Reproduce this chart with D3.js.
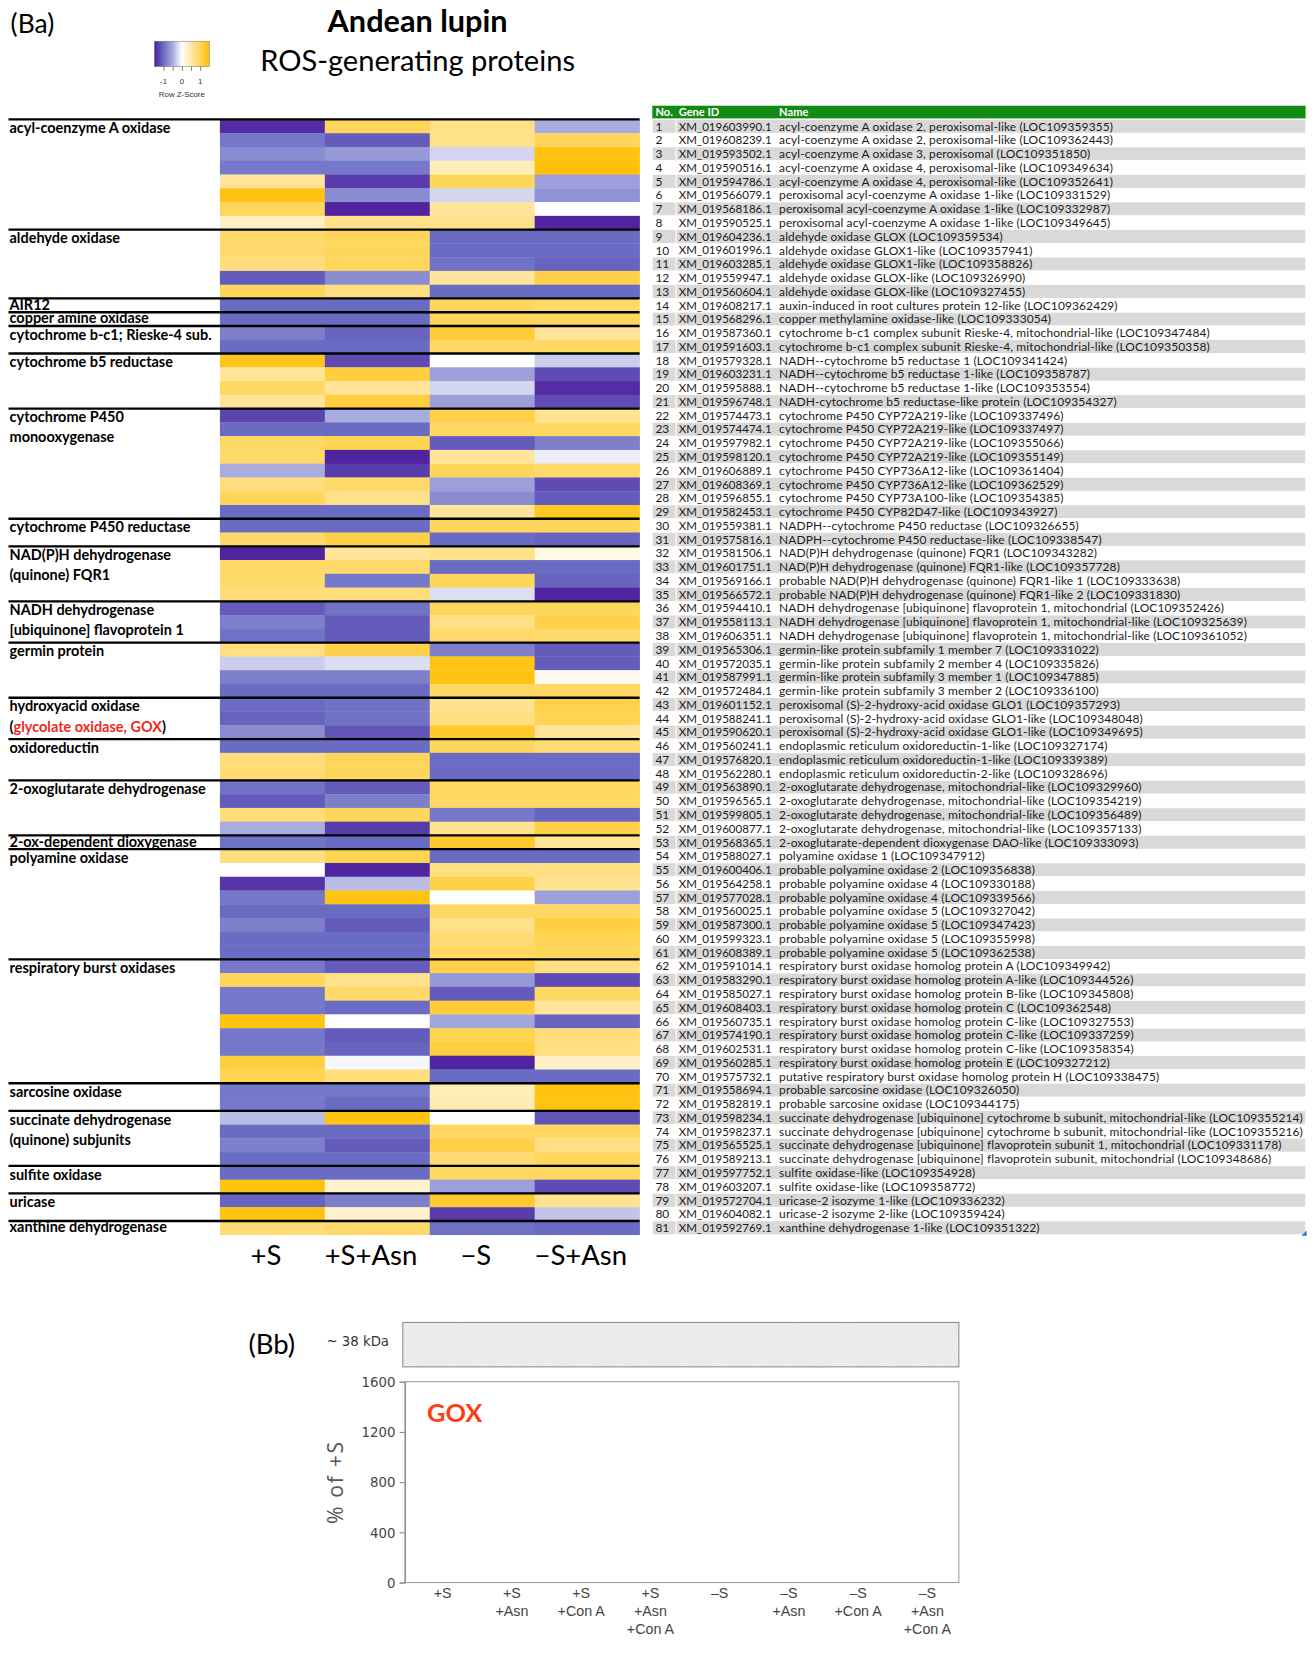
<!DOCTYPE html>
<html lang="en">
<head>
<meta charset="utf-8">
<title>Andean lupin - ROS-generating proteins</title>
<script src="https://cdn.jsdelivr.net/npm/d3@7/dist/d3.min.js"></script>
<style>
  body { margin: 0; background: #fff; }
  svg { display: block; }
</style>
</head>
<body>
<div id="chart"></div>
<script>
// ---- data ----
const conditions = ['+S', '+S+Asn', '\u2212S', '\u2212S+Asn'];

// row z-scores, one array per condition (81 genes)
const zPlusS = [-1.4,-0.9,-0.75,-0.9,0.6,1.4,1.0,0.35, 0.9,0.9,0.8,-1.1,1.0, -1.0, -1.0, -0.85,-1.0,
  1.35,0.6,0.95,0.6, -1.25,-1.0,0.95,0.9,-0.5,0.8,1.0,-1.0, -1.0,0.9, -1.45,0.9,0.9,0.8, -1.1,-0.85,-0.95,
  0.75,-0.3,-0.85,-1.0, -1.0,-1.05,-0.75, -1.0,0.8,0.85, -0.95,-1.1,0.8,-0.5, -0.95,
  0.75,0.0,-1.35,-0.9,-1.0,-0.85,-1.0,-1.0, -0.9,1.0,-0.9,-0.9,1.4,-0.9,-0.9,1.15,1.05,
  -0.9,-0.9, -0.4,-1.0,-0.85,-1.0, -1.0,1.4, -1.05,1.4, 0.85];
const zPlusSAsn = [1.0,-1.1,-0.65,-0.9,-1.3,-0.75,-1.45,0.7, 1.0,1.0,1.0,-0.75,0.75, -1.0, -1.0, -1.05,-1.0,
  -1.2,1.15,0.6,1.15, -0.5,-1.0,1.05,-1.45,-1.3,0.9,0.7,-1.0, -1.0,1.1, 0.6,0.9,-0.9,0.8, -0.95,-1.1,-1.1,
  1.1,-0.2,-0.85,-1.0, -0.95,-0.95,-1.15, -1.0,1.0,1.0, -1.1,-0.85,1.0,-1.3, -1.0,
  1.05,-1.45,-0.4,1.4,-1.0,-1.1,-1.0,-1.0, -1.1,0.7,0.9,-1.0,0.0,-1.1,-1.05,-0.05,0.8,
  -0.9,-1.0, 1.4,-1.0,-1.1,-1.0, -1.0,0.3, -0.85,0.3, 0.9];
const zMinusS = [0.7,0.7,-0.25,0.4,1.0,-0.25,0.6,0.7, -1.0,-1.0,-0.95,0.6,-1.0, 1.0, 1.0, 1.2,0.95,
  0.0,-0.6,-0.25,-0.6, 1.1,0.95,-1.1,0.6,1.0,-0.6,-0.75,0.6, 1.0,-1.0, 0.7,-1.0,1.0,-0.2, 1.0,0.75,0.9,
  -0.85,1.4,1.4,0.95, 0.65,0.75,1.25, 1.0,-1.0,-1.0, 0.95,0.95,-0.9,0.65, 1.25,
  -1.0,0.75,1.1,0.0,0.95,0.7,0.85,0.95, 1.1,-0.65,-1.1,1.2,-0.55,1.05,1.15,-1.45,-1.0,
  0.4,0.45, 0.0,0.95,1.1,0.85, 0.95,-0.6, 1.25,-1.3, -0.95];
const zMinusSAsn = [-0.5,1.0,1.4,1.45,-0.6,-0.7,0.0,-1.45, -1.0,-1.0,-1.05,1.1,-1.0, 0.9, 1.0, 0.6,0.95,
  -0.3,-1.2,-1.4,-1.2, 0.65,0.95,-0.85,-0.1,0.9,-1.2,-1.1,1.3, 1.0,-1.05, 0.15,-1.0,-1.05,-1.45, 1.0,1.1,0.9,
  -1.1,-1.1,0.1,0.95, 1.1,1.05,0.6, 0.85,-1.0,-1.0, 0.95,0.95,-1.05,1.1, 0.6,
  -1.0,0.75,0.65,-0.6,0.95,1.15,1.05,1.0, 0.75,-1.2,0.95,0.6,-1.05,0.8,0.75,0.35,-1.0,
  1.4,1.4, -1.15,0.95,0.75,1.0, 0.95,-1.2, 0.65,-0.35, -1.0];

// protein families on the left (| = line break) and how many genes each holds
const groupNames = ['acyl-coenzyme A oxidase', 'aldehyde oxidase', 'AIR12', 'copper amine oxidase',
  'cytochrome b-c1; Rieske-4 sub.', 'cytochrome b5 reductase', 'cytochrome P450|monooxygenase',
  'cytochrome P450 reductase', 'NAD(P)H dehydrogenase|(quinone) FQR1',
  'NADH dehydrogenase|[ubiquinone] flavoprotein 1', 'germin protein',
  'hydroxyacid oxidase|(glycolate oxidase, GOX)', 'oxidoreductin', '2-oxoglutarate dehydrogenase',
  '2-ox-dependent dioxygenase', 'polyamine oxidase', 'respiratory burst oxidases', 'sarcosine oxidase',
  'succinate dehydrogenase|(quinone) subjunits', 'sulfite oxidase', 'uricase', 'xanthine dehydrogenase'];
const groupSizes = [8,5,1,1,2,4,8,2,4,3,4,3,3,4,1,8,9,2,4,2,2,1];

const geneIds = ['XM_019603990.1','XM_019608239.1','XM_019593502.1','XM_019590516.1','XM_019594786.1',
  'XM_019566079.1','XM_019568186.1','XM_019590525.1','XM_019604236.1','XM_019601996.1','XM_019603285.1',
  'XM_019559947.1','XM_019560604.1','XM_019608217.1','XM_019568296.1','XM_019587360.1','XM_019591603.1',
  'XM_019579328.1','XM_019603231.1','XM_019595888.1','XM_019596748.1','XM_019574473.1','XM_019574474.1',
  'XM_019597982.1','XM_019598120.1','XM_019606889.1','XM_019608369.1','XM_019596855.1','XM_019582453.1',
  'XM_019559381.1','XM_019575816.1','XM_019581506.1','XM_019601751.1','XM_019569166.1','XM_019566572.1',
  'XM_019594410.1','XM_019558113.1','XM_019606351.1','XM_019565306.1','XM_019572035.1','XM_019587991.1',
  'XM_019572484.1','XM_019601152.1','XM_019588241.1','XM_019590620.1','XM_019560241.1','XM_019576820.1',
  'XM_019562280.1','XM_019563890.1','XM_019596565.1','XM_019599805.1','XM_019600877.1','XM_019568365.1',
  'XM_019588027.1','XM_019600406.1','XM_019564258.1','XM_019577028.1','XM_019560025.1','XM_019587300.1',
  'XM_019599323.1','XM_019608389.1','XM_019591014.1','XM_019583290.1','XM_019585027.1','XM_019608403.1',
  'XM_019560735.1','XM_019574190.1','XM_019602531.1','XM_019560285.1','XM_019575732.1','XM_019558694.1',
  'XM_019582819.1','XM_019598234.1','XM_019598237.1','XM_019565525.1','XM_019589213.1','XM_019597752.1',
  'XM_019603207.1','XM_019572704.1','XM_019604082.1','XM_019592769.1'];

const geneNames = [
  'acyl-coenzyme A oxidase 2, peroxisomal-like (LOC109359355)',
  'acyl-coenzyme A oxidase 2, peroxisomal-like (LOC109362443)',
  'acyl-coenzyme A oxidase 3, peroxisomal (LOC109351850)',
  'acyl-coenzyme A oxidase 4, peroxisomal-like (LOC109349634)',
  'acyl-coenzyme A oxidase 4, peroxisomal-like (LOC109352641)',
  'peroxisomal acyl-coenzyme A oxidase 1-like (LOC109331529)',
  'peroxisomal acyl-coenzyme A oxidase 1-like (LOC109332987)',
  'peroxisomal acyl-coenzyme A oxidase 1-like (LOC109349645)',
  'aldehyde oxidase GLOX (LOC109359534)',
  'aldehyde oxidase GLOX1-like (LOC109357941)',
  'aldehyde oxidase GLOX1-like (LOC109358826)',
  'aldehyde oxidase GLOX-like (LOC109326990)',
  'aldehyde oxidase GLOX-like (LOC109327455)',
  'auxin-induced in root cultures protein 12-like (LOC109362429)',
  'copper methylamine oxidase-like (LOC109333054)',
  'cytochrome b-c1 complex subunit Rieske-4, mitochondrial-like (LOC109347484)',
  'cytochrome b-c1 complex subunit Rieske-4, mitochondrial-like (LOC109350358)',
  'NADH--cytochrome b5 reductase 1 (LOC109341424)',
  'NADH--cytochrome b5 reductase 1-like (LOC109358787)',
  'NADH--cytochrome b5 reductase 1-like (LOC109353554)',
  'NADH-cytochrome b5 reductase-like protein (LOC109354327)',
  'cytochrome P450 CYP72A219-like (LOC109337496)',
  'cytochrome P450 CYP72A219-like (LOC109337497)',
  'cytochrome P450 CYP72A219-like (LOC109355066)',
  'cytochrome P450 CYP72A219-like (LOC109355149)',
  'cytochrome P450 CYP736A12-like (LOC109361404)',
  'cytochrome P450 CYP736A12-like (LOC109362529)',
  'cytochrome P450 CYP73A100-like (LOC109354385)',
  'cytochrome P450 CYP82D47-like (LOC109343927)',
  'NADPH--cytochrome P450 reductase (LOC109326655)',
  'NADPH--cytochrome P450 reductase-like (LOC109338547)',
  'NAD(P)H dehydrogenase (quinone) FQR1 (LOC109343282)',
  'NAD(P)H dehydrogenase (quinone) FQR1-like (LOC109357728)',
  'probable NAD(P)H dehydrogenase (quinone) FQR1-like 1 (LOC109333638)',
  'probable NAD(P)H dehydrogenase (quinone) FQR1-like 2 (LOC109331830)',
  'NADH dehydrogenase [ubiquinone] flavoprotein 1, mitochondrial (LOC109352426)',
  'NADH dehydrogenase [ubiquinone] flavoprotein 1, mitochondrial-like (LOC109325639)',
  'NADH dehydrogenase [ubiquinone] flavoprotein 1, mitochondrial-like (LOC109361052)',
  'germin-like protein subfamily 1 member 7 (LOC109331022)',
  'germin-like protein subfamily 2 member 4 (LOC109335826)',
  'germin-like protein subfamily 3 member 1 (LOC109347885)',
  'germin-like protein subfamily 3 member 2 (LOC109336100)',
  'peroxisomal (S)-2-hydroxy-acid oxidase GLO1 (LOC109357293)',
  'peroxisomal (S)-2-hydroxy-acid oxidase GLO1-like (LOC109348048)',
  'peroxisomal (S)-2-hydroxy-acid oxidase GLO1-like (LOC109349695)',
  'endoplasmic reticulum oxidoreductin-1-like (LOC109327174)',
  'endoplasmic reticulum oxidoreductin-1-like (LOC109339389)',
  'endoplasmic reticulum oxidoreductin-2-like (LOC109328696)',
  '2-oxoglutarate dehydrogenase, mitochondrial-like (LOC109329960)',
  '2-oxoglutarate dehydrogenase, mitochondrial-like (LOC109354219)',
  '2-oxoglutarate dehydrogenase, mitochondrial-like (LOC109356489)',
  '2-oxoglutarate dehydrogenase, mitochondrial-like (LOC109357133)',
  '2-oxoglutarate-dependent dioxygenase DAO-like (LOC109333093)',
  'polyamine oxidase 1 (LOC109347912)',
  'probable polyamine oxidase 2 (LOC109356838)',
  'probable polyamine oxidase 4 (LOC109330188)',
  'probable polyamine oxidase 4 (LOC109339566)',
  'probable polyamine oxidase 5 (LOC109327042)',
  'probable polyamine oxidase 5 (LOC109347423)',
  'probable polyamine oxidase 5 (LOC109355998)',
  'probable polyamine oxidase 5 (LOC109362538)',
  'respiratory burst oxidase homolog protein A (LOC109349942)',
  'respiratory burst oxidase homolog protein A-like (LOC109344526)',
  'respiratory burst oxidase homolog protein B-like (LOC109345808)',
  'respiratory burst oxidase homolog protein C (LOC109362548)',
  'respiratory burst oxidase homolog protein C-like (LOC109327553)',
  'respiratory burst oxidase homolog protein C-like (LOC109337259)',
  'respiratory burst oxidase homolog protein C-like (LOC109358354)',
  'respiratory burst oxidase homolog protein E (LOC109327212)',
  'putative respiratory burst oxidase homolog protein H (LOC109338475)',
  'probable sarcosine oxidase (LOC109326050)',
  'probable sarcosine oxidase (LOC109344175)',
  'succinate dehydrogenase [ubiquinone] cytochrome b subunit, mitochondrial-like (LOC109355214)',
  'succinate dehydrogenase [ubiquinone] cytochrome b subunit, mitochondrial-like (LOC109355216)',
  'succinate dehydrogenase [ubiquinone] flavoprotein subunit 1, mitochondrial (LOC109331178)',
  'succinate dehydrogenase [ubiquinone] flavoprotein subunit, mitochondrial (LOC109348686)',
  'sulfite oxidase-like (LOC109354928)',
  'sulfite oxidase-like (LOC109358772)',
  'uricase-2 isozyme 1-like (LOC109336232)',
  'uricase-2 isozyme 2-like (LOC109359424)',
  'xanthine dehydrogenase 1-like (LOC109351322)'];

// panel Bb: western blot quantification categories and y ticks
const goxCategories = [['+S'], ['+S','+Asn'], ['+S','+Con A'], ['+S','+Asn','+Con A'],
  ['\u2013S'], ['\u2013S','+Asn'], ['\u2013S','+Con A'], ['\u2013S','+Asn','+Con A']];
const goxTicks = [0, 400, 800, 1200, 1600];
const legendTicks = [-1, 0, 1];

// ---- drawing (coordinates in the 1242 wide frame, scaled up by the viewBox) ----
let svg = d3.select('#chart').append('svg')
  .attr('width', 1313)
  .attr('height', 1656)
  .attr('viewBox', '0 0 1242 1566.5')

let calibri = 'Lato, "Open Sans", sans-serif'

let color = d3.scaleLinear()
  .domain([-1.5, -1, -0.5, 0, 0.5, 1, 1.5])
  .range(['#4e1c9b', '#6a6bc3', '#a8acdf', '#ffffff', '#ffe8a8', '#ffd65c', '#ffbe00'])
  .clamp(true)

// titles
svg.append('text').attr('x', 10).attr('y', 31)
  .attr('font-family', calibri).attr('font-size', 25).text('(Ba)')
svg.append('text').attr('x', 395).attr('y', 30).attr('text-anchor', 'middle')
  .attr('font-family', calibri).attr('font-size', 29).attr('font-weight', 'bold').text('Andean lupin')
svg.append('text').attr('x', 395).attr('y', 67).attr('text-anchor', 'middle')
  .attr('font-family', calibri).attr('font-size', 27.5).text('ROS-generating proteins')

// colour key
let defs = svg.append('defs')
let grad = defs.append('linearGradient').attr('id', 'zgrad')
d3.range(0, 1.0001, 0.05).forEach(t => {
  grad.append('stop').attr('offset', t).attr('stop-color', color(-1.5 + 3 * t))
})
let key = d3.scaleLinear().domain([-1.5, 1.5]).range([146, 198])
svg.append('rect').attr('x', 146).attr('y', 39).attr('width', 52).attr('height', 24)
  .attr('fill', 'url(#zgrad)').attr('stroke', '#777').attr('stroke-width', 0.5)
svg.append('g')
  .attr('transform', 'translate(0,63)')
  .call(d3.axisBottom(key).tickValues([-1, -0.5, 0, 0.5, 1]).tickSize(4).tickFormat(''))
  .call(g => g.select('.domain').remove())
  .call(g => g.selectAll('line').attr('stroke', '#333').attr('stroke-width', 0.6))
svg.selectAll('.keylab').data(legendTicks).enter().append('text')
  .attr('x', d => key(d)).attr('y', 79).attr('text-anchor', 'middle')
  .attr('font-family', 'Liberation Sans, Arial, sans-serif').attr('font-size', 7.5).attr('fill', '#333')
  .text(d => d)
svg.append('text').attr('x', 172).attr('y', 92).attr('text-anchor', 'middle')
  .attr('font-family', 'Liberation Sans, Arial, sans-serif').attr('font-size', 7.5).attr('fill', '#333')
  .text('Row Z-Score')

// heatmap
let nGenes = geneIds.length
let xh = d3.scaleBand().domain(conditions).range([208, 605])
let yh = d3.scaleBand().domain(d3.range(nGenes)).range([113, 1168])
let zCols = [zPlusS, zPlusSAsn, zMinusS, zMinusSAsn]
let cells = []
zCols.forEach((col, c) => col.forEach((v, i) => cells.push({cond: conditions[c], row: i, z: v})))

svg.append('g').selectAll('rect').data(cells).enter().append('rect')
  .attr('x', d => xh(d.cond))
  .attr('y', d => yh(d.row))
  .attr('width', xh.bandwidth() + 0.3)
  .attr('height', yh.bandwidth() + 0.3)
  .attr('fill', d => color(d.z))

svg.selectAll('.condlab').data(conditions).enter().append('text')
  .attr('x', d => xh(d) + xh.bandwidth() / 2 - 6)
  .attr('y', 1197).attr('text-anchor', 'middle')
  .attr('font-family', calibri).attr('font-size', 26)
  .text(d => d)

// family labels and separators
let starts = []
groupSizes.reduce((acc, n) => { starts.push(acc); return acc + n }, 0)
let groups = groupNames.map((name, k) => ({name: name, start: starts[k], size: groupSizes[k]}))

let gl = svg.append('g')
gl.selectAll('line').data(groups).enter().append('line')
  .attr('x1', 8).attr('x2', 605)
  .attr('y1', d => yh(d.start)).attr('y2', d => yh(d.start))
  .attr('stroke', '#000').attr('stroke-width', 2.2)

groups.forEach(g => {
  let top = yh(g.start)
  let base = top + (g.size === 1 ? 10.5 : 13)
  g.name.split('|').forEach((line, li) => {
    let t = gl.append('text').attr('x', 9).attr('y', base + li * 19)
      .attr('font-family', calibri).attr('font-size', 13.7).attr('font-weight', 'bold')
    if (line.indexOf('GOX') >= 0) {
      t.append('tspan').text('(')
      t.append('tspan').attr('fill', '#ee2a1b').text(line.slice(1, -1))
      t.append('tspan').text(')')
    } else {
      t.text(line)
    }
  })
})

// gene table
let tb = svg.append('g')
tb.append('rect').attr('x', 617).attr('y', 100).attr('width', 618).attr('height', 12)
  .attr('fill', '#138a13')
;[['No.', 620], ['Gene ID', 642], ['Name', 737]].forEach(h => {
  tb.append('text').attr('x', h[1]).attr('y', 109.5)
    .attr('font-family', calibri).attr('font-size', 10.5).attr('font-weight', 'bold')
    .attr('fill', '#fff').text(h[0])
})
let rows = tb.selectAll('.row').data(geneIds).enter().append('g')
  .attr('transform', (d, i) => 'translate(0,' + yh(i) + ')')
rows.append('rect').attr('x', 617).attr('width', 618).attr('height', yh.bandwidth())
  .attr('fill', (d, i) => i % 2 === 0 ? '#d9d9d9' : '#ffffff')
  .attr('stroke', '#fff').attr('stroke-width', 0.6)
rows.append('line').attr('x1', 639.5).attr('x2', 639.5).attr('y1', 0).attr('y2', yh.bandwidth())
  .attr('stroke', '#fff').attr('stroke-width', 1)
let rowText = (x, size, spacing, f) => rows.append('text').attr('x', x).attr('y', yh.bandwidth() / 2 + 4)
  .attr('font-family', calibri).attr('font-size', size).attr('letter-spacing', spacing)
  .attr('fill', '#1a1a1a').text(f)
rowText(620, 11.3, 0, (d, i) => i + 1)
rowText(642, 10.9, 0, d => d)
rowText(737, 11.3, 0.12, (d, i) => geneNames[i])
tb.append('path').attr('d', 'M1236,1164 L1236,1169 L1231,1169 Z').attr('fill', '#3b6fd6')

// panel Bb
svg.append('text').attr('x', 235).attr('y', 1281)
  .attr('font-family', calibri).attr('font-size', 26).text('(Bb)')
svg.append('text').attr('x', 368).attr('y', 1273).attr('text-anchor', 'end')
  .attr('font-family', '"Liberation Sans Narrow", "DejaVu Sans Condensed", sans-serif')
  .attr('font-size', 14).attr('fill', '#333').text('~ 38 kDa')

let noise = defs.append('filter').attr('id', 'blotnoise').attr('x', 0).attr('y', 0)
  .attr('width', 1).attr('height', 1)
noise.append('feTurbulence').attr('type', 'fractalNoise').attr('baseFrequency', 0.8)
  .attr('numOctaves', 2).attr('seed', 4)
noise.append('feColorMatrix').attr('type', 'saturate').attr('values', 0)
noise.append('feComponentTransfer').append('feFuncA').attr('type', 'linear').attr('slope', 0.22)
svg.append('rect').attr('x', 381).attr('y', 1251).attr('width', 526).attr('height', 42)
  .attr('fill', '#f1f1f1')
svg.append('rect').attr('x', 381).attr('y', 1251).attr('width', 526).attr('height', 42)
  .attr('filter', 'url(#blotnoise)')
svg.append('rect').attr('x', 381).attr('y', 1251).attr('width', 526).attr('height', 42)
  .attr('fill', 'none').attr('stroke', '#8c8c8c').attr('stroke-width', 1)

let yb = d3.scaleLinear().domain([0, 1600]).range([1497, 1307])
let xb = d3.scaleBand().domain(d3.range(goxCategories.length)).range([383, 907])

svg.append('rect').attr('x', 383).attr('y', 1307).attr('width', 524).attr('height', 190)
  .attr('fill', 'none').attr('stroke', '#9a9a9a').attr('stroke-width', 1)

svg.append('g')
  .attr('transform', 'translate(383,0)')
  .call(d3.axisLeft(yb).tickValues(goxTicks).tickFormat(d3.format('d')).tickSize(5).tickPadding(4))
  .call(g => g.select('.domain').attr('stroke', '#8a8a8a'))
  .call(g => g.selectAll('line').attr('stroke', '#8a8a8a'))
  .call(g => g.selectAll('text')
    .attr('font-family', '"Liberation Sans Narrow", "DejaVu Sans Condensed", sans-serif')
    .attr('font-size', 14).attr('fill', '#444'))

svg.append('text')
  .attr('transform', 'translate(324,1402) rotate(-90)')
  .attr('text-anchor', 'middle')
  .attr('font-family', '"Open Sans", sans-serif').attr('font-size', 20)
  .attr('letter-spacing', 1.6).attr('fill', '#555').text('% of +S')

svg.append('text').attr('x', 404).attr('y', 1345)
  .attr('font-family', calibri).attr('font-size', 24).attr('font-weight', 'bold')
  .attr('fill', '#ff3d14').text('GOX')

let xl = svg.append('g')
goxCategories.forEach((lines, k) => {
  let t = xl.append('text').attr('text-anchor', 'middle')
    .attr('font-family', '"Liberation Sans", Arial, sans-serif').attr('font-size', 13.5).attr('fill', '#444')
  lines.forEach((s, li) => {
    t.append('tspan').attr('x', xb(k) + xb.bandwidth() / 2 + 3).attr('y', 1512 + li * 17).text(s)
  })
})
</script>
</body>
</html>
